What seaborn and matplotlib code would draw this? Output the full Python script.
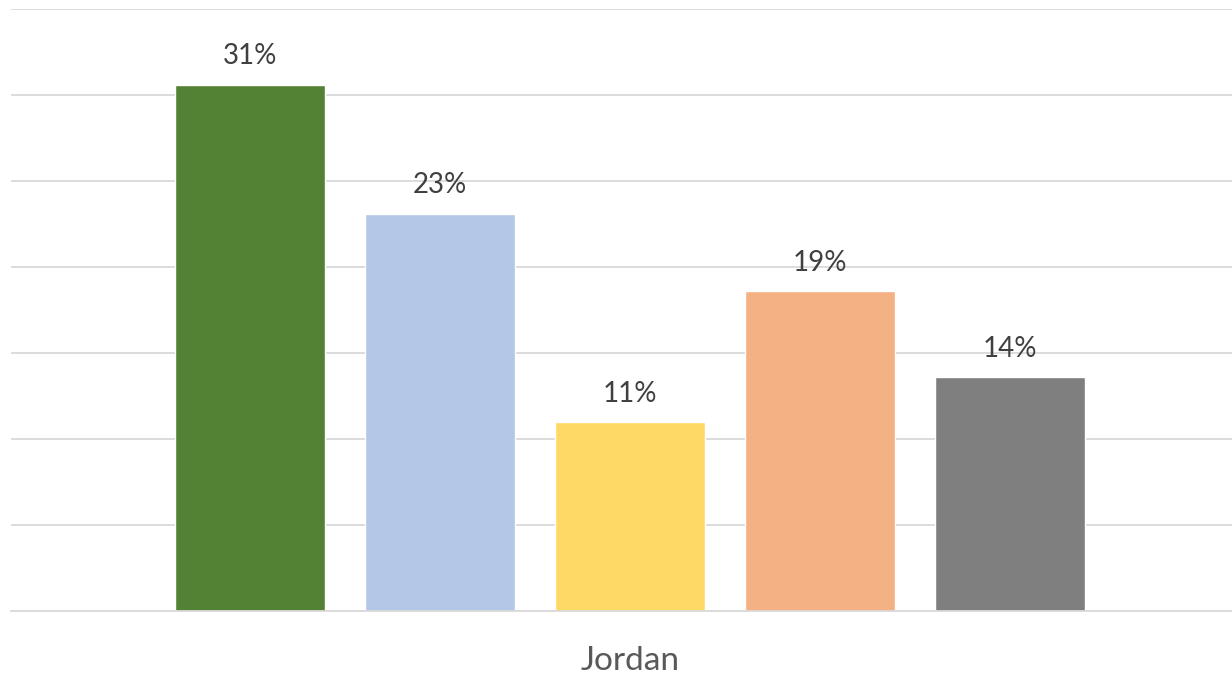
import matplotlib
matplotlib.use("Agg")
import matplotlib.pyplot as plt
import seaborn as sns
import pandas as pd

countries = ["Jordan"]
series = ["Series 1", "Series 2", "Series 3", "Series 4", "Series 5"]
values = [0.306, 0.231, 0.110, 0.186, 0.136]
labels = ["31%", "23%", "11%", "19%", "14%"]
colors = ["#548235", "#B4C7E7", "#FFD966", "#F4B183", "#7F7F7F"]

df = pd.DataFrame({"country": countries * len(series), "series": series, "value": values})

sns.set_theme(style="white")
plt.rcParams["font.family"] = ["Lato", "DejaVu Sans"]

fig = plt.figure(figsize=(12.32, 6.75), dpi=100)
ax = fig.add_axes([11 / 1232, (675 - 611) / 675, (1232 - 11) / 1232, (611 - 9) / 675])

sns.barplot(data=df, x="country", y="value", hue="series", palette=colors,
            width=0.8, gap=0.21, saturation=1, legend=False, ax=ax)

ax.set_ylim(0, 0.35)
ax.set_yticks([i * 0.05 for i in range(8)])
ax.set_yticklabels([])
ax.tick_params(axis="y", length=0)
ax.tick_params(axis="x", length=0, labelsize=24, labelcolor="#595959", pad=25)
ax.grid(axis="y", color="#D9D9D9", linewidth=1.3)
ax.set_axisbelow(True)
for s in ["top", "right", "left"]:
    ax.spines[s].set_visible(False)
ax.spines["bottom"].set_color("#D9D9D9")
ax.spines["bottom"].set_linewidth(1.3)
ax.set_xlabel("")
ax.set_ylabel("")
ax.set_xlim(-0.521, 0.507)

for patch, lab in zip(ax.patches, labels):
    x = patch.get_x() + patch.get_width() / 2
    y = patch.get_height()
    ax.annotate(lab, (x, y), xytext=(0, 11), textcoords="offset points",
                ha="center", va="bottom", fontsize=20, color="#404040")

fig.savefig("out.png", dpi=100)
